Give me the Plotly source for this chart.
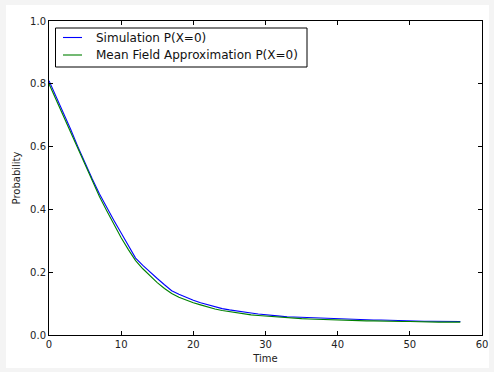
import plotly.graph_objects as go

time = list(range(0, 58))
sim = [0.810, 0.760, 0.710, 0.655, 0.600, 0.547, 0.497, 0.449, 0.405, 0.365,
       0.325, 0.285, 0.245, 0.222, 0.200, 0.180, 0.160, 0.141, 0.130, 0.120,
       0.111, 0.103, 0.096, 0.089, 0.084, 0.080, 0.076, 0.073, 0.070, 0.067,
       0.064, 0.062, 0.060, 0.058, 0.057, 0.056, 0.055, 0.054, 0.053, 0.052,
       0.051, 0.050, 0.050, 0.049, 0.049, 0.048, 0.048, 0.047, 0.047, 0.046,
       0.045, 0.045, 0.044, 0.044, 0.044, 0.043, 0.043, 0.043]
mf = [0.800, 0.748, 0.697, 0.645, 0.592, 0.540, 0.489, 0.440, 0.396, 0.352,
      0.310, 0.272, 0.237, 0.211, 0.188, 0.167, 0.148, 0.132, 0.120, 0.111,
      0.103, 0.096, 0.089, 0.083, 0.078, 0.074, 0.070, 0.067, 0.064, 0.062,
      0.060, 0.058, 0.056, 0.054, 0.053, 0.052, 0.051, 0.050, 0.049, 0.048,
      0.047, 0.047, 0.046, 0.046, 0.045, 0.045, 0.044, 0.044, 0.043, 0.043,
      0.043, 0.042, 0.042, 0.042, 0.041, 0.041, 0.041, 0.041]
series_names = ["Simulation P(X=0)", "Mean Field Approximation P(X=0)"]
series_colors = ["#0000ff", "#008000"]
x_ticks = [0, 10, 20, 30, 40, 50, 60]
y_ticks = [0.0, 0.2, 0.4, 0.6, 0.8, 1.0]

W, H = 494, 372
L, R, T, B = 49, 12, 21, 37
pw, ph = W - L - R, H - T - B


def px(xp):
    return (xp - L) / pw


def py(yp):
    return (H - B - yp) / ph


fig = go.Figure()
for ys, name, col in zip([sim, mf], series_names, series_colors):
    fig.add_trace(go.Scatter(x=time, y=ys, mode="lines", name=name,
                             line=dict(color=col, width=1.1), showlegend=False))

font = "DejaVu Sans, sans-serif"
axis_common = dict(showline=True, linecolor="black", linewidth=1, mirror="ticks",
                   ticks="inside", ticklen=4, tickcolor="black", showgrid=False,
                   zeroline=False, tickfont=dict(family=font, size=10, color="#222"))

# legend drawn manually (box, sample lines, labels)
shapes = [dict(type="rect", xref="paper", yref="paper", layer="below",
               x0=px(6), x1=px(489), y0=py(368), y1=py(5),
               fillcolor="white", line=dict(width=0)),
          dict(type="rect", xref="paper", yref="paper", layer="above",
               x0=px(55.5), x1=px(307), y0=py(67), y1=py(28),
               fillcolor="white", line=dict(color="black", width=1))]
annotations = []
rows = [37.5, 55]
for name, col, ry in zip(series_names, series_colors, rows):
    shapes.append(dict(type="line", xref="paper", yref="paper", layer="above",
                       x0=px(63), x1=px(82), y0=py(ry), y1=py(ry),
                       line=dict(color=col, width=1.1)))
    annotations.append(dict(text=name, xref="paper", yref="paper", x=px(94), y=py(ry),
                            xanchor="left", yanchor="middle", showarrow=False,
                            font=dict(family=font, size=12, color="#111")))

fig.update_layout(
    width=W, height=H,
    margin=dict(l=L, r=R, t=T, b=B, autoexpand=False),
    paper_bgcolor="#f4f4f4", plot_bgcolor="white",
    font=dict(family=font, size=10, color="#222"),
    showlegend=False,
    xaxis=dict(range=[0, 60], tickvals=x_ticks, ticktext=[str(v) for v in x_ticks],
               title=dict(text="Time", font=dict(family=font, size=10, color="#222"), standoff=5),
               **axis_common),
    yaxis=dict(range=[0, 1], tickvals=y_ticks, ticktext=[f"{v:.1f}" for v in y_ticks],
               title=dict(text="Probability", font=dict(family=font, size=10, color="#222"), standoff=7),
               **axis_common),
    shapes=shapes,
    annotations=annotations,
)

fig.write_html("out.html", config={"displayModeBar": False},
               post_script="document.body.style.margin='0';document.body.style.overflow='hidden';")
